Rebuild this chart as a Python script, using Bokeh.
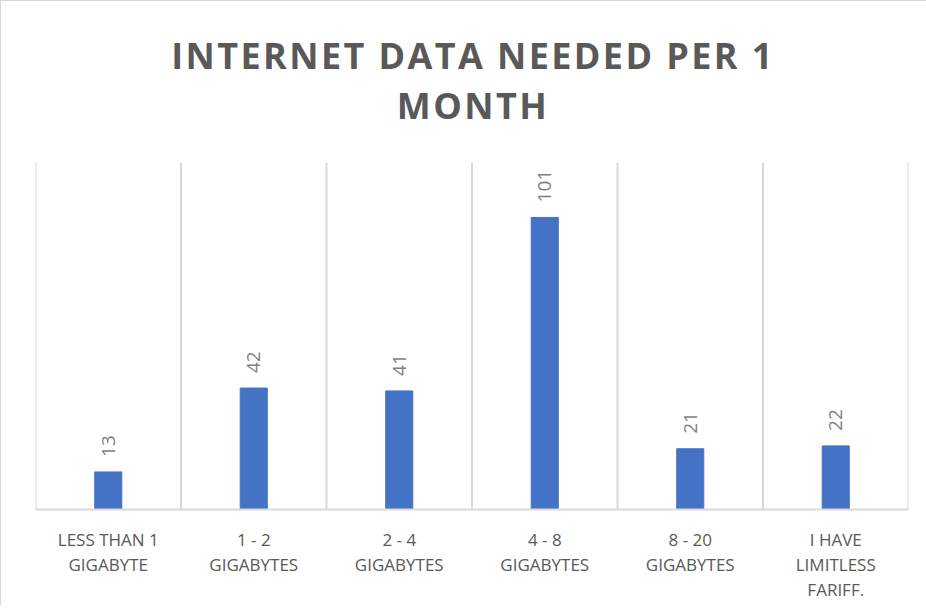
import math
from bokeh.plotting import figure
from bokeh.models import FactorRange, Range1d, ColumnDataSource, Div
from bokeh.layouts import column
from bokeh.embed import file_html
from bokeh.resources import INLINE
from bokeh.core.properties import value

# ---- data ----
categories = [
    "LESS THAN 1\nGIGABYTE",
    "1 - 2\nGIGABYTES",
    "2 - 4\nGIGABYTES",
    "4 - 8\nGIGABYTES",
    "8 - 20\nGIGABYTES",
    "I HAVE\nLIMITLESS\nFARIFF.",
]
counts = [13, 42, 41, 101, 21, 22]
count_labels = [str(c) for c in counts]
title_line1 = "INTERNET DATA NEEDED PER 1"
title_line2 = "MONTH"
y_max = 120

FONT = "Open Sans"
BAR = "#4472C4"
GRID = "#d9d9d9"
TXT = "#595959"

title_div = Div(
    text=(f'<div style="width:916px;text-align:center;padding-top:25px;'
          f'position:relative;left:9px;'
          f'font-family:\'Open Sans\';font-weight:bold;font-size:36px;line-height:50px;'
          f'letter-spacing:2.4px;color:{TXT};margin:0;">'
          f'{title_line1}<br>{title_line2}</div>'),
    width=916, height=130,
)

p = figure(
    width=916, height=464,
    x_range=FactorRange(factors=categories, range_padding=0),
    y_range=Range1d(0, y_max),
    output_backend="svg", toolbar_location=None, title=None,
    min_border_left=34, min_border_right=9, min_border_top=21, min_border_bottom=96,
)

# category boundaries (vertical separators)
bounds = list(range(len(categories) + 1))
p.segment(x0=bounds, y0=[0] * len(bounds), x1=bounds, y1=[y_max] * len(bounds),
          line_color=GRID, line_width=2)

src = ColumnDataSource(dict(cat=categories, n=counts, lab=count_labels))
p.vbar(x="cat", top="n", width=0.186, source=src, fill_color=BAR, line_color=BAR)
p.text(x="cat", y="n", text="lab", source=src, angle=math.pi / 2,
       text_align="left", text_baseline="middle", y_offset=-15,
       text_font=value(FONT), text_font_size="19px", text_color="#7f7f7f")

p.yaxis.visible = False
p.xgrid.visible = False
p.ygrid.visible = False
p.outline_line_color = None
xa = p.xaxis[0]
xa.axis_line_color = GRID
xa.axis_line_width = 2
xa.major_tick_line_color = None
xa.minor_tick_line_color = None
xa.major_label_standoff = 12
xa.major_label_text_font = FONT
xa.major_label_text_font_size = "17px"
xa.major_label_text_color = TXT
xa.major_label_text_line_height = 1.1

layout = column(title_div, p, spacing=0)
layout.styles = {"border-left": "1px solid #d9d9d9", "border-top": "1px solid #d9d9d9"}

open("out.html", "w").write(file_html(layout, INLINE))
